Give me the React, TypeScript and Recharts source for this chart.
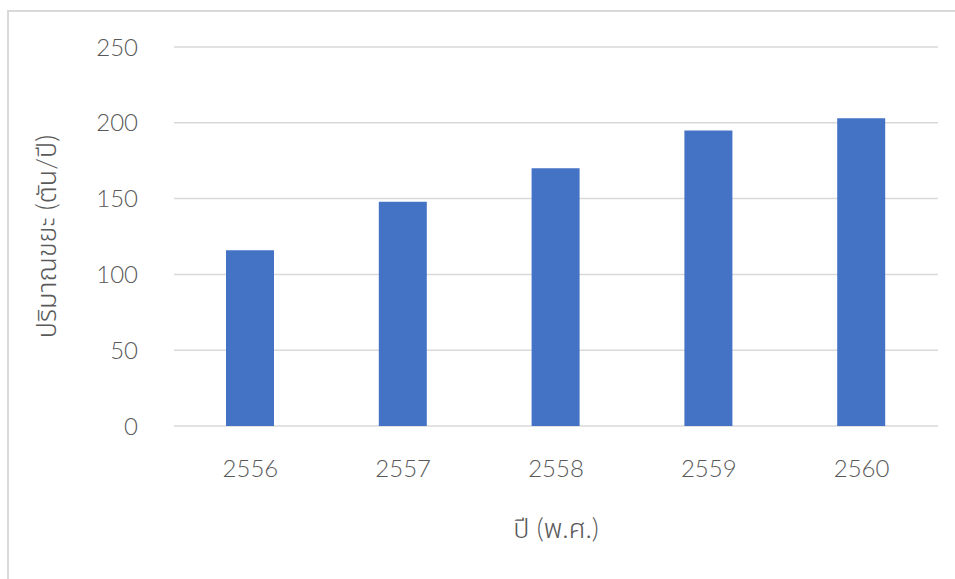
import { Bar, BarChart, CartesianGrid, Label, XAxis, YAxis } from "recharts"

const years = ["2556", "2557", "2558", "2559", "2560"]
const wasteTons = [116, 148, 170, 195, 203]
const yTicks = [0, 50, 100, 150, 200, 250]

const xTitle = "ปี (พ.ศ.)"
const yTitle = "ปริมาณขยะ (ตัน/ปี)"

const data = years.map((year, i) => ({ year, value: wasteTons[i] }))

const font = "'Segoe UI', Lato, 'Leelawadee UI', 'Noto Sans Thai', 'Noto Sans', Tahoma, sans-serif"
const textColor = "#595959"
const gridColor = "#d9d9d9"

const App = () => {
    return (
        <div
            style={{
                position: "absolute",
                left: 0,
                top: 0,
                width: 955,
                height: 579,
                overflow: "hidden",
                background: "#fff",
                fontFamily: font,
            }}
        >
            {/* frame edge */}
            <div
                style={{
                    position: "absolute",
                    left: 7,
                    top: 10,
                    width: 960,
                    height: 580,
                    borderTop: `2px solid ${gridColor}`,
                    borderLeft: `2px solid ${gridColor}`,
                }}
            />
            <BarChart
                width={955}
                height={579}
                data={data}
                margin={{ top: 47, right: 17, bottom: 0, left: 0 }}
                style={{ position: "absolute", left: 0, top: 0 }}
            >
                <CartesianGrid
                    vertical={false}
                    stroke={gridColor}
                    strokeWidth={1.5}
                />
                <XAxis
                    dataKey="year"
                    axisLine={false}
                    tickLine={false}
                    tickSize={0}
                    tickMargin={34}
                    height={153}
                    tick={{ fill: textColor, fontSize: 24, fontWeight: 300, fontFamily: font }}
                >
                    <Label
                        content={({ viewBox }: any) => (
                            <text
                                x={viewBox.x + viewBox.width / 2}
                                y={viewBox.y + 101}
                                textAnchor="middle"
                                dominantBaseline="central"
                                fill={textColor}
                                fontSize={27}
                                fontWeight={300}
                                fontFamily={font}
                            >
                                {xTitle}
                            </text>
                        )}
                    />
                </XAxis>
                <YAxis
                    domain={[0, 250]}
                    ticks={yTicks}
                    axisLine={false}
                    tickLine={false}
                    tickSize={0}
                    tickMargin={36}
                    width={174}
                    tick={{ fill: textColor, fontSize: 24, fontWeight: 300, fontFamily: font }}
                >
                    <Label
                        content={({ viewBox }: any) => {
                            const cx = viewBox.x + 45
                            const cy = viewBox.y + viewBox.height / 2
                            return (
                                <text
                                    x={cx}
                                    y={cy}
                                    transform={`rotate(-90 ${cx} ${cy})`}
                                    textAnchor="middle"
                                    dominantBaseline="central"
                                    fill={textColor}
                                    fontSize={27}
                                    fontWeight={300}
                                    fontFamily={font}
                                >
                                    {yTitle}
                                </text>
                            )
                        }}
                    />
                </YAxis>
                <Bar
                    dataKey="value"
                    fill="#4472C4"
                    barSize={48}
                    isAnimationActive={false}
                />
            </BarChart>
        </div>
    )
}

export default App
